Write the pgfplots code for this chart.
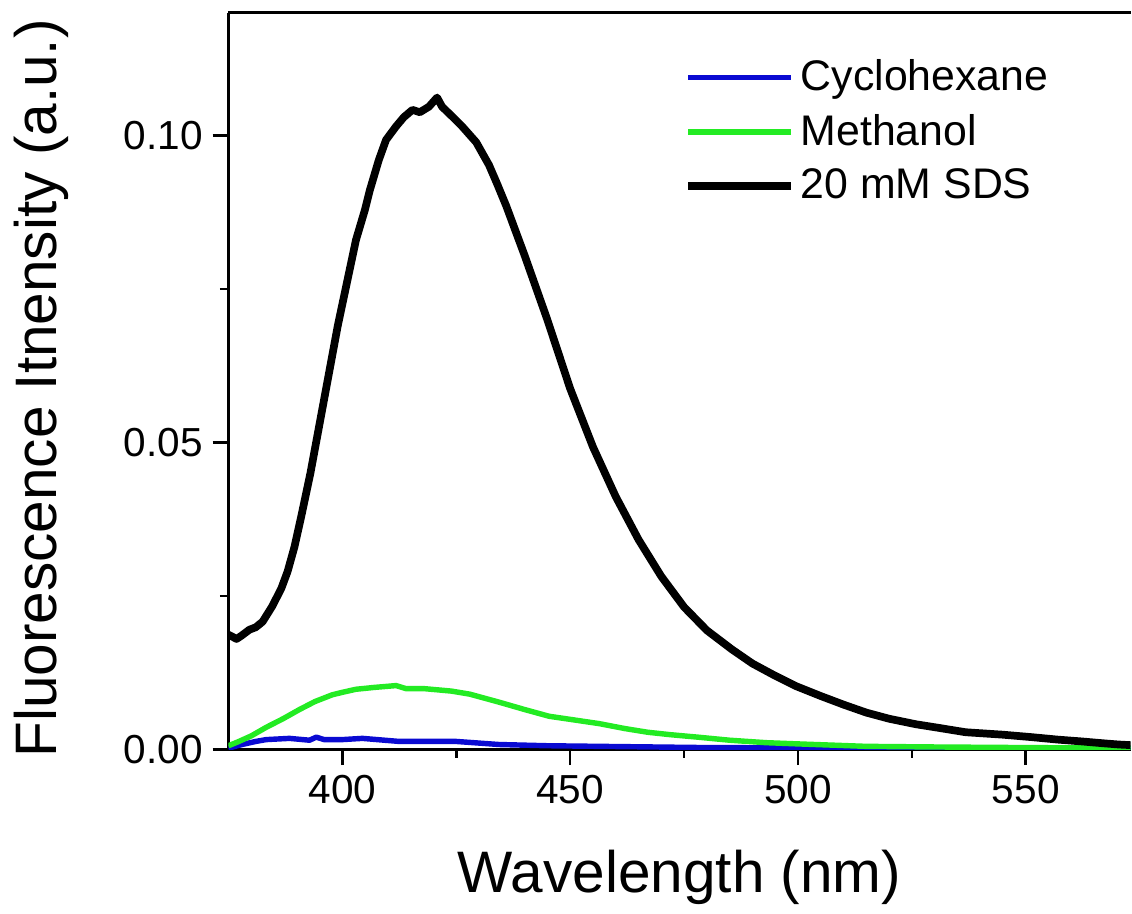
\documentclass[border=0pt]{standalone}
\usepackage{fontspec}
\setmainfont{Liberation Sans}
\usepackage{pgfplots}
\pgfplotsset{compat=1.18}

\definecolor{cyc}{RGB}{10,10,210}
\definecolor{meth}{RGB}{35,235,35}

\begin{document}
\begin{tikzpicture}
\begin{axis}[
    scale only axis,
    width=316pt, height=258pt,
    xmin=375, xmax=573,
    ymin=0, ymax=0.12,
    separate axis lines,
    axis x line*=box,
    axis y line*=left,
    xtick pos=bottom, ytick pos=left,
    tick align=outside,
    xtick={400,450,500,550},
    ytick={0,0.05,0.1},
    minor x tick num=1,
    minor y tick num=1,
    major tick length=5.5pt,
    minor tick length=3pt,
    every tick/.style={black, line width=0.9pt},
    axis line style={line width=1pt},
    /pgf/number format/assume math mode=true,
    yticklabel style={/pgf/number format/.cd, fixed, fixed zerofill, precision=2},
    ticklabel style={font=\fontsize{14.2}{16}\selectfont},
    xlabel={Wavelength (nm)},
    ylabel={Fluorescence Itnensity (a.u.)},
    label style={font=\fontsize{20.5}{24}\selectfont},
    xlabel style={at={(axis description cs:0.5,-0.194)}, anchor=base},
    ylabel style={at={(axis description cs:-0.1905,0.49)}, anchor=base},
    legend style={draw=none, fill=none, at={(0.505,0.945)}, anchor=north west,
        font=\fontsize{15}{17}\selectfont, row sep=2.8pt, inner sep=0pt},
    legend cell align=left,
    legend image code/.code={\draw[#1] (0pt,0pt) -- (36pt,0pt);},
    every axis plot/.append style={line join=round},
    after end axis/.code={
        \path (rel axis cs:0,1) ++(-80pt,4.5pt);
        \path (rel axis cs:0,0) ++(0,-55pt);
    },
]
\addplot[cyc, line width=1.9pt] coordinates {
(375,0.0002)(378,0.0008)(381,0.0013)(383.3,0.0016)(388.4,0.0018)(392.8,0.0015)
(394.3,0.0020)(396,0.0016)(400,0.0016)(404.4,0.0018)(412.5,0.0013)(418,0.0013)
(425,0.0013)(434.4,0.0008)(445,0.0006)(456.4,0.0005)(480,0.0003)(520,0.0002)(573,0.0001)
};
\addlegendentry{Cyclohexane}
\addplot[meth, line width=1.9pt] coordinates {
(375,0.0006)(377,0.0012)(380,0.0022)(383.3,0.0036)(387,0.0050)(390.6,0.0065)
(394,0.0078)(397.8,0.0089)(400,0.0093)(403,0.0098)(407,0.0101)(411.8,0.0104)
(414,0.0099)(418,0.0099)(424,0.0095)(428,0.0090)(434.4,0.0077)(440,0.0065)
(445.4,0.0054)(450,0.0049)(456.4,0.0042)(462,0.0034)(467,0.0028)(472,0.0024)
(478,0.0020)(485,0.0015)(493,0.0011)(500,0.0009)(515,0.0005)(530,0.0004)
(550,0.0003)(573,0.0002)
};
\addlegendentry{Methanol}
\addplot[black, line width=2.7pt] coordinates {
(375,0.0187)(376.8,0.0180)(378,0.0186)(379.6,0.0195)(381,0.0199)(382.5,0.0208)
(384.6,0.0233)(386.6,0.0262)(388,0.0290)(389.5,0.0330)(391,0.0380)(393,0.0450)
(395,0.0530)(397,0.0610)(399,0.0690)(401,0.0760)(403,0.0830)(405,0.0880)
(406,0.0910)(408,0.0960)(409.6,0.0993)(411.8,0.1015)(413.5,0.1030)(415.4,0.1042)
(417,0.1038)(419,0.1047)(420.8,0.1062)(421.9,0.1047)(424,0.1032)(426.3,0.1015)
(429.4,0.0989)(432.2,0.0952)(434,0.0921)(436,0.0885)(440,0.0805)(445,0.0700)
(450,0.0588)(455,0.0493)(460,0.0412)(465,0.0342)(470,0.0282)(475,0.0232)
(480,0.0194)(485.5,0.0163)(490,0.0140)(495,0.0120)(499.6,0.0103)(505,0.0087)
(510,0.0073)(515,0.0060)(520,0.0050)(525.9,0.0041)(531,0.0035)(536.8,0.0028)
(545,0.0024)(551.3,0.0020)(557,0.0016)(562.3,0.0013)(567,0.0010)(570.4,0.0008)
(573,0.0007)
};
\addlegendentry{20 mM SDS}
\end{axis}
\end{tikzpicture}
\end{document}
